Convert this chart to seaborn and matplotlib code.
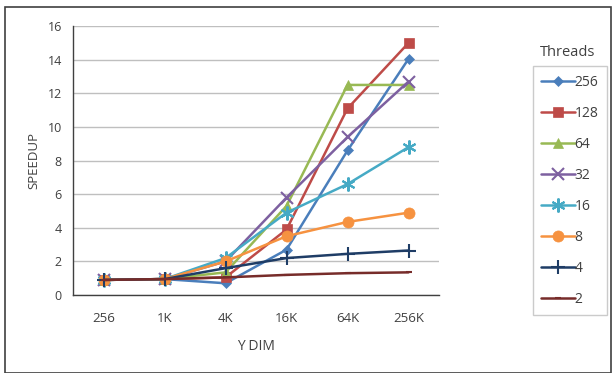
import matplotlib
matplotlib.use("Agg")
import matplotlib.pyplot as plt
import seaborn as sns
import pandas as pd
from matplotlib.patches import Rectangle

categories = ["256", "1K", "4K", "16K", "64K", "256K"]
threads = ["256", "128", "64", "32", "16", "8", "4", "2"]
s256 = [0.9, 0.95, 0.7, 2.7, 8.6, 14.05]
s128 = [0.9, 0.95, 1.05, 3.9, 11.1, 15.0]
s64 = [0.9, 0.95, 1.35, 5.3, 12.5, 12.5]
s32 = [0.9, 0.95, 2.0, 5.8, 9.4, 12.7]
s16 = [0.9, 0.95, 2.2, 4.9, 6.6, 8.8]
s8 = [0.9, 0.95, 2.0, 3.5, 4.35, 4.9]
s4 = [0.9, 0.95, 1.6, 2.2, 2.45, 2.65]
s2 = [0.9, 0.95, 1.05, 1.2, 1.3, 1.35]
series = [s256, s128, s64, s32, s16, s8, s4, s2]

colors = ["#4A7EBB", "#BE4B48", "#98B954", "#7D60A0", "#46AAC5", "#F69240", "#1F3D66", "#772C2A"]
markers = ["D", "s", "^", "x", (6, 2, 0), "o", "+", "_"]
msizes = [5.5, 7, 7, 9, 10, 8, 10, 5]

rows = []
for t, vals in zip(threads, series):
    for i, v in enumerate(vals):
        rows.append({"Threads": t, "x": i, "y": v})
df = pd.DataFrame(rows)

sns.set_theme(style="white")
plt.rcParams["font.family"] = ["Open Sans", "DejaVu Sans"]
fig = plt.figure(figsize=(6.14, 3.73), dpi=100)
ax = fig.add_axes([0.119, 0.209, 0.596, 0.721])

for t, c, m, ms in zip(threads, colors, markers, msizes):
    sub = df[df["Threads"] == t]
    sns.lineplot(data=sub, x="x", y="y", color=c, marker=m, markersize=ms,
                 markeredgecolor=c, markeredgewidth=1.5 if m in ["x", "+", (6, 2, 0), "_"] else 0.5,
                 linewidth=1.8, ax=ax, label=t, legend=False)

ax.set_xlim(-0.5, 5.5)
ax.set_ylim(0, 16)
ax.set_yticks(range(0, 17, 2))
ax.set_xticks(range(len(categories)))
ax.set_xticklabels(categories)
ax.grid(axis="y", color="#BFBFBF", linewidth=1)
ax.set_axisbelow(True)
for s in ["top", "right"]:
    ax.spines[s].set_visible(False)
for s in ["left", "bottom"]:
    ax.spines[s].set_color("#404040")
    ax.spines[s].set_linewidth(1)
ax.tick_params(axis="both", colors="#404040", labelsize=9, length=0, pad=8)
ax.tick_params(axis="x", pad=12, labelsize=9.5)
ax.set_xlabel("Y DIM", fontsize=10, color="#404040", labelpad=10)
ax.set_ylabel("SPEEDUP", fontsize=9.5, color="#404040", labelpad=5)

handles, labels = ax.get_legend_handles_labels()
leg = fig.legend(handles, labels, loc="upper left", bbox_to_anchor=(0.868, 0.822),
                 frameon=True, fancybox=False, edgecolor="#BFBFBF", fontsize=10,
                 labelspacing=1.15, handlelength=2.4, handletextpad=0.0,
                 borderpad=0.6, borderaxespad=0)
for txt in leg.get_texts():
    txt.set_color("#404040")
fig.text(0.925, 0.86, "Threads", ha="center", va="center", fontsize=10.5, color="#404040")

fig.patches.append(Rectangle((0.008, 0.0), 0.987, 0.982, transform=fig.transFigure,
                             fill=False, edgecolor="#404040", linewidth=1.2))
fig.savefig("out.png", dpi=100)
